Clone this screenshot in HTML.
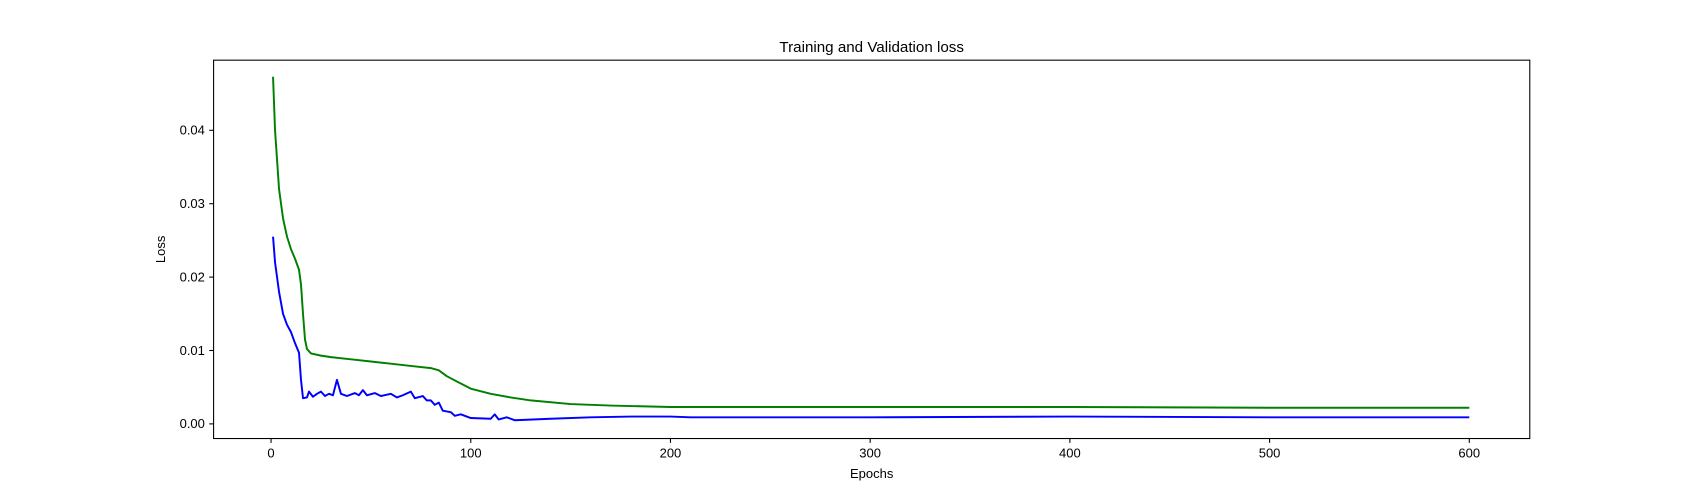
<!DOCTYPE html>
<html><head><meta charset="utf-8"><style>body{margin:0;background:#fff}svg{font-family:"Liberation Sans","DejaVu Sans",sans-serif;display:block}</style></head>
<body>
<svg id="chart" width="1700" height="500" viewBox="0 0 1568 461.2" preserveAspectRatio="none">
<rect width="1568" height="462" fill="#fff"/>
<text x="804" y="48" text-anchor="middle" font-size="14">Training and Validation loss</text>
<g id="plot"></g>
<rect x="197" y="55.5" width="1214" height="349" fill="none" stroke="#000" stroke-width="1"/>
<text x="804" y="441" text-anchor="middle" font-size="12">Epochs</text>
<text x="152" y="230" text-anchor="middle" font-size="12" transform="rotate(-90 152 230)">Loss</text>
</svg>
<script>
const xTicks=[0,100,200,300,400,500,600];
const yTicks=[0,0.01,0.02,0.03,0.04];
const yTickLabels=["0.00","0.01","0.02","0.03","0.04"];
const trainEpochs=[1,2,4,6,8,10,12,14,15,16,17,18,20,25,30,40,50,60,70,80,84,88,95,100,110,120,130,150,170,200,300,400,500,600];
const trainLoss=[0.0473,0.040,0.032,0.028,0.0255,0.0238,0.0225,0.021,0.019,0.015,0.0115,0.0102,0.0096,0.0093,0.0091,0.0088,0.0085,0.0082,0.0079,0.0076,0.0073,0.0065,0.0055,0.0048,0.0041,0.0036,0.0032,0.0027,0.0025,0.0023,0.0023,0.0023,0.0022,0.0022];
const valEpochs=[1,2,4,6,8,10,12,14,15,16,18,19,21,23,25,27,29,31,33,35,38,42,44,46,48,52,55,60,63,66,70,72,76,78,80,82,84,86,90,92,95,100,110,112,114,118,122,140,160,180,200,210,300,400,500,600];
const valLoss=[0.0255,0.022,0.018,0.015,0.0135,0.0125,0.011,0.0097,0.006,0.0035,0.0036,0.0044,0.0037,0.0041,0.0044,0.0038,0.0041,0.0039,0.006,0.0041,0.0038,0.0042,0.0039,0.0046,0.0039,0.0042,0.0038,0.0041,0.0036,0.0039,0.0044,0.0035,0.0038,0.0032,0.0032,0.0026,0.0029,0.0018,0.0016,0.0011,0.0013,0.0008,0.0007,0.0013,0.0006,0.0009,0.0005,0.0007,0.0009,0.0010,0.0010,0.0009,0.0009,0.0010,0.0009,0.0009];
const xs=v=>250+v*1.842;
const ys=v=>391-v*6770;
const g=document.getElementById('plot');
const NS='http://www.w3.org/2000/svg';
function mk(t,a){const e=document.createElementNS(NS,t);for(const k in a)e.setAttribute(k,a[k]);g.appendChild(e);return e;}
xTicks.forEach(t=>{
 const l=mk('line',{x1:xs(t),x2:xs(t),y1:404.5,y2:408.5,stroke:'#000'});
 
 
 const s=mk('text',{x:xs(t),y:422,'text-anchor':'middle','font-size':12});s.textContent=t;
 
 
});
yTicks.forEach((t,i)=>{
 const l=mk('line',{x1:193,x2:197,y1:ys(t),y2:ys(t),stroke:'#000'});
 
 
 const s=mk('text',{x:189,y:ys(t)+4,'text-anchor':'end','font-size':12});s.textContent=yTickLabels[i];
 
 
});
function line(ex,vals,col,name){
 const p=mk('polyline',{points:ex.map((e,i)=>xs(e)+','+ys(vals[i])).join(' '),fill:'none',stroke:col,'stroke-width':1.8,'stroke-linejoin':'round'});
 
 
}
line(trainEpochs,trainLoss,'green','training-loss-line');
line(valEpochs,valLoss,'blue','validation-loss-line');
</script>
</body></html>
